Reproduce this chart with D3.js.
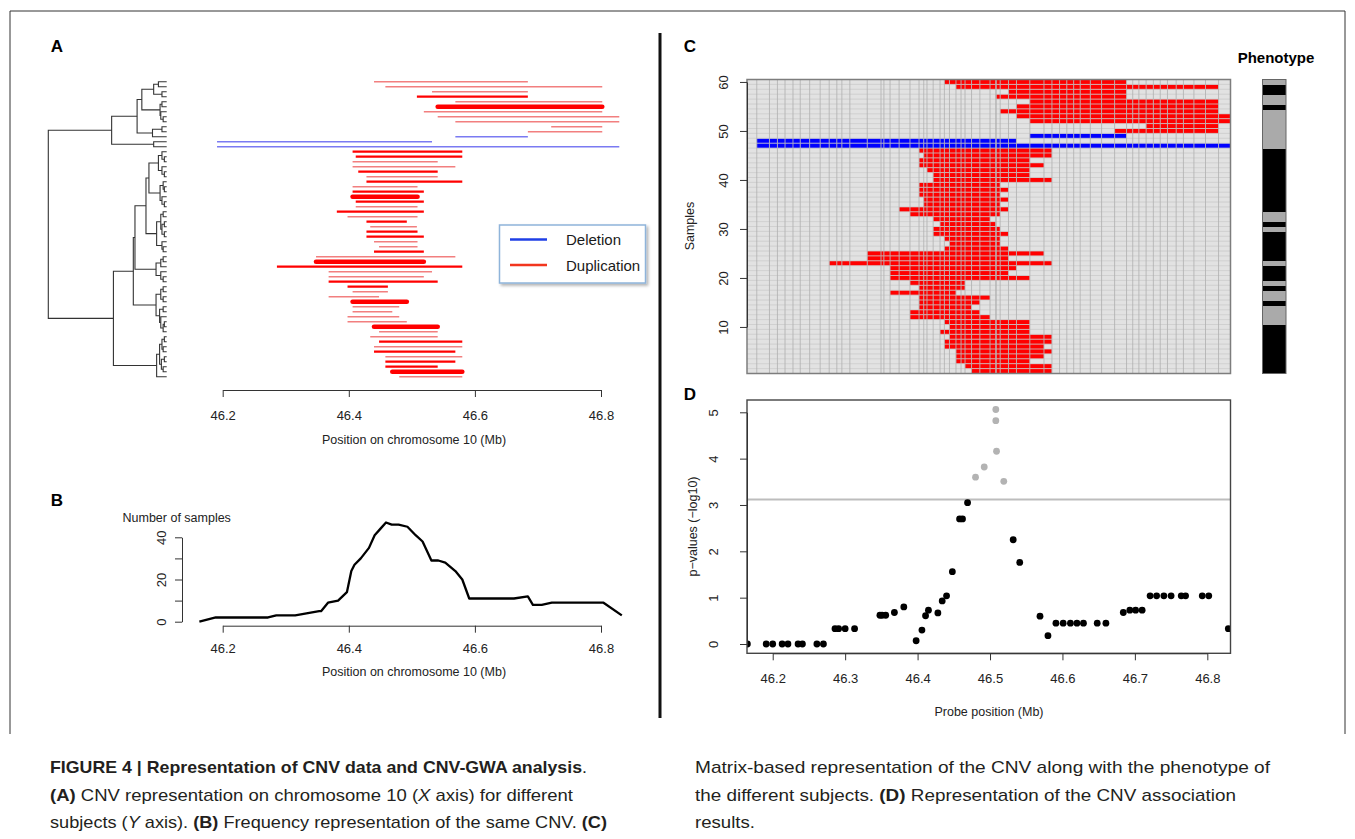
<!DOCTYPE html>
<html>
<head>
<meta charset="utf-8">
<script src="https://cdn.jsdelivr.net/npm/d3@7"></script>
<style>
body { margin: 0; background: #fff; }
svg text { font-family: "Liberation Sans", Arial, Helvetica, sans-serif; }
</style>
</head>
<body>
<svg id="fig" width="1355" height="839"></svg>
<script>
// ---- data ----

// probe positions (Mb) and -log10 p-values (panel D)
const probePos = [46.165,46.191,46.200,46.213,46.221,46.235,46.241,46.261,46.270,46.286,
  46.291,46.300,46.313,46.348,46.351,46.356,46.368,46.381,46.398,46.406,
  46.411,46.415,46.428,46.434,46.440,46.448,46.458,46.462,46.469,46.480,
  46.492,46.508,46.508,46.509,46.519,46.532,46.541,46.569,46.580,46.591,
  46.601,46.611,46.620,46.629,46.648,46.660,46.684,46.693,46.701,46.710,
  46.721,46.730,46.740,46.750,46.764,46.770,46.793,46.802,46.829];
const pValues = [0,0,0,0,0,0,0,0,0,0.33,
  0.33,0.33,0.33,0.62,0.62,0.62,0.68,0.80,0.07,0.30,
  0.61,0.73,0.67,0.93,1.04,1.56,2.70,2.70,3.05,3.60,
  3.82,5.06,4.82,4.16,3.51,2.25,1.76,0.60,0.18,0.45,
  0.45,0.45,0.45,0.45,0.45,0.45,0.68,0.73,0.73,0.73,
  1.04,1.04,1.04,1.04,1.04,1.04,1.04,1.04,0.33];
const threshold = 3.12;

// CNV of each subject, in dendrogram order (top to bottom); first/last probe index (1-based)
const segStart = [25,27,36,33,38,37,35,37,38,51, 47,38,2,2,20,21,20,20,22,23,
  23,20,20,20,21,21,18,19,23,24, 23,23,25,26,25,14,14,10,17,17,
  17,19,20,17,20,20,20,19,19,25, 26,24,26,25,25,27,27,27,29,30];
const segEnd = [47,58,47,47,58,58,58,59,59,58, 58,47,36,59,39,39,37,38,37,37,
  39,34,35,34,35,34,35,34,31,32, 34,35,34,34,35,38,35,39,36,35,
  37,28,28,26,31,30,29,30,31,37, 37,37,39,39,38,39,38,37,39,39];
const segType = ["dup","dup","dup","dup","dup","dup","dup","dup","dup","dup",
  "dup","del","del","del","dup","dup","dup","dup","dup","dup",
  "dup","dup","dup","dup","dup","dup","dup","dup","dup","dup",
  "dup","dup","dup","dup","dup","dup","dup","dup","dup","dup",
  "dup","dup","dup","dup","dup","dup","dup","dup","dup","dup",
  "dup","dup","dup","dup","dup","dup","dup","dup","dup","dup"];
const segWeight = ["l","l","l","m","l","t","l","l","l","l", "l","l","l","l","m","m","l","l","m","l",
  "m","l","m","t","m","l","m","l","m","l", "m","m","l","l","m","l","t","m","l","l",
  "m","m","l","l","t","l","l","l","l","t", "l","l","m","l","m","l","m","m","t","l"];

// hierarchical clustering: [height, left, right], leaves = row in panel A
const G1 = [0.07, [0.04, 15, [0.02, 16, 17]], [0.04, 18, [0.02, 19, 20]]];
const G2 = [0.056, [0.03, 21, [0.02, 22, 23]], [0.04, 24, [0.02, 25, 26]]];
const G3 = [0.085, [0.05, [0.03, 27, 28], [0.04, [0.02, 29, 30], [0.02, 31, 32]]], [0.04, 33, [0.03, 34, 35]]];
const G4 = [0.09, [0.05, [0.03, 36, 37], 38], [0.05, 39, [0.03, 40, 41]]];
const G5 = [0.09, [0.05, [0.03, 42, 43], [0.03, 44, 45]], [0.06, [0.03, 46, 47], [0.05, 48, [0.03, [0.02, 49, 50], 51]]]];
const B2 = [0.085, [0.06, [0.04, [0.02, 52, 53], [0.03, 54, 55]], [0.045, [0.02, 56, 57], [0.03, 58, 59]]], 60];
const topTree = [0.465,
  [0.25,
    [0.21, [0.11, [0.07, 1, 2], [0.04, 3, 4]], [0.056, [0.04, 5, 6], [0.05, 7, [0.03, 8, 9]]]],
    [0.12, [0.04, 10, 11], 12]],
  [0.11, 13, 14]];
const bottomTree = [0.45, [0.282, [0.268, [0.175, [0.15, G1, G2], G3], G4], G5], B2];
const tree = [1.0, topTree, bottomTree];

// panel B: number of samples carrying the CNV
const freqPos = [46.163,46.189,46.272,46.285,46.315,46.353,46.356,46.367,46.383,46.397,46.404,
  46.409,46.419,46.432,46.441,46.450,46.459,46.468,46.479,46.493,46.506,
  46.517,46.531,46.542,46.553,46.569,46.580,46.591,46.662,46.684,46.692,
  46.706,46.722,46.804,46.833];
const freqCount = [0,2,2,3,3,5,5,9,10,14,24,
  27,30,35,41,44,47,46,46,45,41,
  38,29,29,28,24,20,11,11,12,8,
  8,9,9,3];

// phenotype of samples 1..60 (1 = black, 0 = grey)
const phenotype = [1,1,1,1,1,1,1,1,1,1, 0,0,0,0,1,0,0,1,0,1, 1,1,0,1,1,1,1,1,1,0,
  1,0,0,1,1,1,1,1,1,1, 1,1,1,1,1,1,0,0,0,0, 0,0,0,0,1,0,0,1,1,0];

const chrTicks = [46.2, 46.4, 46.6, 46.8];
const probeTicks = [46.2, 46.3, 46.4, 46.5, 46.6, 46.7, 46.8];
const freqTicks = [0, 10, 20, 30, 40];
const sampleTicks = [10, 20, 30, 40, 50, 60];
const pTicks = [0, 1, 2, 3, 4, 5];

// ---- drawing ----
const svg = d3.select("#fig");
const ink = "#222";

function label(x, y, txt, opts = {}) {
  const t = svg.append("text").attr("x", x).attr("y", y).text(txt)
    .attr("font-size", opts.size || 12.5)
    .attr("fill", opts.fill || ink)
    .attr("text-anchor", opts.anchor || "middle")
    .attr("dominant-baseline", "central");
  if (opts.bold) t.attr("font-weight", "bold");
  if (opts.rotate) t.attr("transform", `rotate(-90,${x},${y})`);
  return t;
}

// R-like axes built with d3.axis
function xAxis(scale, ticks, y, labelDist) {
  const s = scale.copy().domain([ticks[0], ticks[ticks.length - 1]])
    .range([scale(ticks[0]), scale(ticks[ticks.length - 1])]);
  const g = svg.append("g").attr("transform", `translate(0,${y})`)
    .call(d3.axisBottom(s).tickValues(ticks).tickSize(7).tickSizeOuter(0).tickFormat(d3.format(".1f")));
  g.select(".domain").attr("stroke", "#333");
  g.selectAll(".tick line").attr("stroke", "#333");
  g.selectAll(".tick text").attr("y", labelDist).attr("dy", "0.35em")
    .attr("font-size", 13).attr("fill", ink).attr("font-family", null);
  return g;
}
function yAxis(scale, ticks, labels, x, labelDist) {
  const s = scale.copy().domain([ticks[0], ticks[ticks.length - 1]])
    .range([scale(ticks[0]), scale(ticks[ticks.length - 1])]);
  const g = svg.append("g").attr("transform", `translate(${x},0)`)
    .call(d3.axisLeft(s).tickValues(ticks).tickSize(7).tickSizeOuter(0)
      .tickFormat(d => labels.includes(d) ? d : ""));
  g.select(".domain").attr("stroke", "#333");
  g.selectAll(".tick line").attr("stroke", "#333");
  g.selectAll(".tick text").attr("x", null).attr("dy", null)
    .attr("transform", `translate(${-labelDist},0) rotate(-90)`)
    .attr("text-anchor", "middle").attr("dominant-baseline", "central")
    .attr("font-size", 13).attr("fill", ink).attr("font-family", null);
  return g;
}

// figure frame and divider
svg.append("path").attr("d", "M10,734V11H1345V734").attr("fill", "none")
  .attr("stroke", "#333").attr("stroke-width", 1);
svg.append("line").attr("x1", 660).attr("x2", 660).attr("y1", 33).attr("y2", 718)
  .attr("stroke", "#111").attr("stroke-width", 3);

[["A", 57, 46], ["B", 57, 500], ["C", 690, 46], ["D", 690, 394]]
  .forEach(([t, x, y]) => label(x, y, t, { size: 17, bold: true, fill: "#000" }));

// ---- panel A ----
const xChr = d3.scaleLinear().domain([46.2, 46.8]).range([222.7, 601]);
const yRow = d3.scaleLinear().domain([1, 60]).range([81.7, 376.7]);
const xDen = d3.scaleLinear().domain([1, 0]).range([48.3, 166.7]);

const denG = svg.append("g").attr("fill", "none").attr("stroke", "#333").attr("stroke-width", 1.1);
function drawNode(node) {
  if (typeof node === "number") return yRow(node);
  const [h, a, b] = node;
  const ya = drawNode(a), yb = drawNode(b);
  const xa = xDen(typeof a === "number" ? 0 : a[0]);
  const xb = xDen(typeof b === "number" ? 0 : b[0]);
  denG.append("path").attr("d", `M${xa},${ya}H${xDen(h)}V${yb}H${xb}`);
  return (ya + yb) / 2;
}
drawNode(tree);

const segG = svg.append("g");
segStart.forEach((s, i) => {
  const w = segWeight[i];
  const dup = segType[i] === "dup";
  const col = dup ? (w === "l" ? "#f27f7f" : "#ff0000") : "#7a7af2";
  segG.append("line")
    .attr("x1", xChr(probePos[s - 1])).attr("x2", xChr(probePos[segEnd[i] - 1]))
    .attr("y1", yRow(i + 1)).attr("y2", yRow(i + 1))
    .attr("stroke", col)
    .attr("stroke-width", w === "t" ? 4.6 : w === "m" ? 2.3 : 1.6)
    .attr("stroke-linecap", w === "t" ? "round" : "butt");
});

xAxis(xChr, chrTicks, 390, 25);
label(414, 440, "Position on chromosome 10 (Mb)");

// legend
const defs = svg.append("defs");
const shadow = defs.append("filter").attr("id", "shadow").attr("x", "-10%").attr("y", "-10%")
  .attr("width", "130%").attr("height", "140%");
shadow.append("feDropShadow").attr("dx", 2).attr("dy", 2).attr("stdDeviation", 1.5)
  .attr("flood-color", "#000").attr("flood-opacity", 0.3);
svg.append("rect").attr("x", 499.5).attr("y", 225).attr("width", 146).attr("height", 58)
  .attr("fill", "#fff").attr("stroke", "#8fb4da").attr("stroke-width", 1.5)
  .attr("filter", "url(#shadow)");
[["Deletion", "#1f3fe6", 239.5], ["Duplication", "#f2361e", 265]].forEach(([t, c, y]) => {
  svg.append("line").attr("x1", 510).attr("x2", 547).attr("y1", y).attr("y2", y)
    .attr("stroke", c).attr("stroke-width", 2.6);
  label(566, y, t, { size: 15, anchor: "start", fill: "#1a1a1a" });
});

// ---- panel B ----
const yFreq = d3.scaleLinear().domain([0, 40]).range([621.7, 537.3]);
svg.append("path")
  .attr("d", d3.line().x((d, i) => xChr(freqPos[i])).y(d => yFreq(d))(freqCount))
  .attr("fill", "none").attr("stroke", "#000").attr("stroke-width", 2.3)
  .attr("stroke-linejoin", "round");
xAxis(xChr, chrTicks, 625.7, 23);
yAxis(yFreq, freqTicks, [0, 20, 40], 182, 21);
label(122.5, 517.5, "Number of samples", { anchor: "start" });
label(414, 672, "Position on chromosome 10 (Mb)");

// ---- panel C ----
const xProbe = d3.scaleLinear().domain([46.1645, 46.832]).range([747, 1230.5]);
const ySample = d3.scaleLinear().domain([0.5, 60.5]).range([373.5, 79.5]);
const bounds = [xProbe.domain()[0]];
for (let j = 1; j < probePos.length; j++) bounds.push((probePos[j - 1] + probePos[j]) / 2);
bounds.push(xProbe.domain()[1]);

const cells = [];
for (let r = 1; r <= 60; r++) {
  const i = 60 - r; // index in dendrogram order
  probePos.forEach((p, j) => {
    const on = j + 1 >= segStart[i] && j + 1 <= segEnd[i];
    cells.push({ r, j, fill: on ? (segType[i] === "dup" ? "#ff0000" : "#0000ff") : "#e2e2e2" });
  });
}
svg.append("g").selectAll("rect").data(cells).join("rect")
  .attr("x", d => xProbe(bounds[d.j]))
  .attr("width", d => Math.max(0, xProbe(bounds[d.j + 1]) - xProbe(bounds[d.j])))
  .attr("y", d => ySample(d.r + 0.5))
  .attr("height", d => ySample(d.r - 0.5) - ySample(d.r + 0.5))
  .attr("fill", d => d.fill);

const gridG = svg.append("g");
gridG.selectAll("line.h").data(d3.range(1, 60)).join("line").attr("class", "h")
  .attr("x1", 747).attr("x2", 1230.5)
  .attr("y1", d => ySample(d + 0.5)).attr("y2", d => ySample(d + 0.5))
  .attr("stroke", "#c9c9c9").attr("stroke-width", 0.8);
gridG.selectAll("line.v").data(bounds.slice(1, -1)).join("line").attr("class", "v")
  .attr("x1", d => xProbe(d)).attr("x2", d => xProbe(d))
  .attr("y1", 79.5).attr("y2", 373.5)
  .attr("stroke", "#b3b3b3").attr("stroke-width", 0.9);
svg.append("rect").attr("x", 747).attr("y", 79.5).attr("width", 1230.5 - 747).attr("height", 294)
  .attr("fill", "none").attr("stroke", "#7d7d7d").attr("stroke-width", 1.5);
yAxis(ySample, sampleTicks, sampleTicks, 747, 24);
label(690, 226, "Samples", { rotate: true });

// phenotype bar
svg.append("g").attr("shape-rendering", "crispEdges")
  .selectAll("rect").data(phenotype).join("rect")
  .attr("x", 1262.5).attr("width", 23.5)
  .attr("y", (d, i) => ySample(i + 1.5))
  .attr("height", (d, i) => ySample(i + 0.5) - ySample(i + 1.5) + 0.6)
  .attr("fill", d => d ? "#000" : "#aaaaaa");
svg.append("rect").attr("x", 1262.5).attr("y", 79.5).attr("width", 23.5).attr("height", 294)
  .attr("fill", "none").attr("stroke", "#666").attr("stroke-width", 1);
label(1276, 57, "Phenotype", { size: 15, bold: true, fill: "#000" });

// ---- panel D ----
const yP = d3.scaleLinear().domain([0, 5]).range([644, 412.3]);
defs.append("clipPath").attr("id", "clipD").append("rect")
  .attr("x", 747).attr("y", 400).attr("width", 1230.5 - 747).attr("height", 253.3);
svg.append("line").attr("x1", 747).attr("x2", 1230.5)
  .attr("y1", yP(threshold)).attr("y2", yP(threshold))
  .attr("stroke", "#bdbdbd").attr("stroke-width", 2);
svg.append("g").attr("clip-path", "url(#clipD)")
  .selectAll("circle").data(pValues).join("circle")
  .attr("cx", (d, i) => xProbe(probePos[i])).attr("cy", d => yP(d)).attr("r", 3.4)
  .attr("fill", d => d > threshold ? "#b3b3b3" : "#000");
svg.append("rect").attr("x", 747).attr("y", 400).attr("width", 1230.5 - 747).attr("height", 253.3)
  .attr("fill", "none").attr("stroke", "#444").attr("stroke-width", 1.4);
xAxis(xProbe, probeTicks, 653.3, 25);
yAxis(yP, pTicks, pTicks, 747, 33.5);
label(989, 712, "Probe position (Mb)");
label(692.5, 526.5, "p\u2212values (\u2212log10)", { rotate: true });

// ---- caption ----
function captionLine(x, y, width, parts) {
  const t = svg.append("text").attr("x", x).attr("y", y).attr("font-size", 17)
    .attr("fill", "#231f20")
    .attr("font-family", '"Liberation Sans Narrow", "Liberation Sans", Arial, sans-serif')
    .attr("textLength", width).attr("lengthAdjust", "spacingAndGlyphs");
  parts.forEach(([s, st]) => {
    const ts = t.append("tspan").text(s);
    if (st === "b") ts.attr("font-weight", "bold");
    if (st === "i") ts.attr("font-style", "italic");
  });
}
captionLine(50, 773, 537, [["FIGURE 4 | Representation of CNV data and CNV-GWA analysis", "b"], [".", ""]]);
captionLine(50, 801, 523, [["(A)", "b"], [" CNV representation on chromosome 10 (", ""], ["X", "i"], [" axis) for different", ""]]);
captionLine(50, 828, 557, [["subjects (", ""], ["Y", "i"], [" axis). ", ""], ["(B)", "b"],
  [" Frequency representation of the same CNV. ", ""], ["(C)", "b"]]);
captionLine(695, 773, 575, [["Matrix-based representation of the CNV along with the phenotype of", ""]]);
captionLine(695, 801, 541, [["the different subjects. ", ""], ["(D)", "b"], [" Representation of the CNV association", ""]]);
captionLine(695, 828, 60, [["results.", ""]]);
</script>
</body>
</html>
